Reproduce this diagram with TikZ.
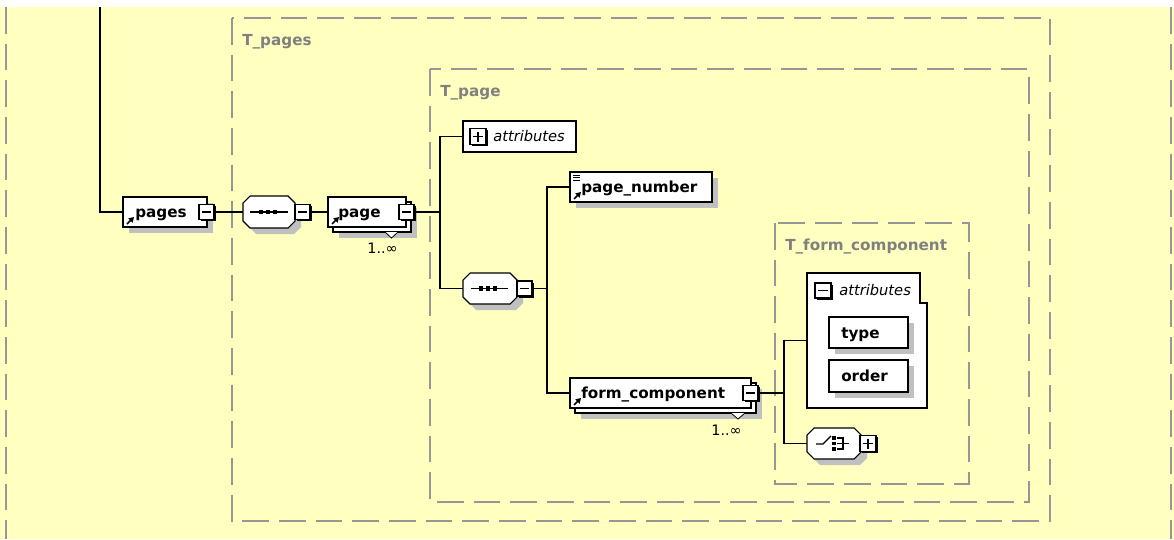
\documentclass[tikz,border=0pt]{standalone}
\usepackage{fontspec}
\setmainfont{DejaVu Sans}
\usetikzlibrary{calc,arrows.meta}
\definecolor{bg}{RGB}{255,255,192}
\definecolor{dashgray}{RGB}{150,150,150}
\definecolor{labgray}{RGB}{128,128,128}
\definecolor{shgray}{RGB}{192,192,192}

% element box with drop shadow: [style]{name}{x1}{y1}{x2}{y2}
\newcommand\elem[6][]{%
  \fill[shgray] ({#3+6},{#4+6}) rectangle ({#5+6},{#6+6});
  \node[elbox,#1,minimum width={(#5-#3)*0.75pt},minimum height={(#6-#4)*0.75pt}] (#2) at ({(#3+#5)/2},{(#4+#6)/2}) {};}
% plain box, no shadow
\newcommand\plainbox[6][]{%
  \node[elbox,#1,minimum width={(#5-#3)*0.75pt},minimum height={(#6-#4)*0.75pt}] (#2) at ({(#3+#5)/2},{(#4+#6)/2}) {};}
% minus / plus boxes
\newcommand\minusb[5]{%
  \fill[black] ({#2+1.5},{#3+1.5}) rectangle ({#4+1.5},{#5+1.5});
  \plainbox{#1}{#2}{#3}{#4}{#5}
  \draw[line width=1.1pt] ($(#1.west)+(3,0)$) -- ($(#1.east)+(-3,0)$);}
\newcommand\plusb[5]{%
  \minusb{#1}{#2}{#3}{#4}{#5}
  \draw[line width=1.1pt] ($(#1.north)+(0,3)$) -- ($(#1.south)+(0,-3)$);}
% octagon compositor
\newcommand\octpath[4]{({#1+7},#2) -- ({#3-7},#2) -- (#3,{#2+7}) -- (#3,{#4-7}) -- ({#3-7},#4) -- ({#1+7},#4) -- (#1,{#4-7}) -- (#1,{#2+7}) -- cycle}
\newcommand\octa[5]{%
  \fill[shgray,shift={(6,6)}] \octpath{#2}{#3}{#4}{#5};
  \filldraw[fill=white,draw=black,line width=0.8pt] \octpath{#2}{#3}{#4}{#5};
  \node[inner sep=0,outer sep=0,minimum width={(#4-#2)*0.75pt},minimum height={(#5-#3)*0.75pt}] (#1) at ({(#2+#4)/2},{(#3+#5)/2}) {};}
% reference arrow icon
\newcommand\refarrow[1]{%
  \draw[line width=1.3pt,-{Triangle[length=3.8pt,width=4.4pt]}] ($(#1.south west)+(4,-3)$) -- ++(7,-7);}

\begin{document}
\begin{tikzpicture}[x=0.75pt,y=-0.75pt,
  conn/.style={draw=black,line width=1pt},
  frame/.style={draw=dashgray,line width=1.1pt,dash pattern=on 20pt off 7.5pt},
  elbox/.style={draw=black,fill=white,line width=0.8pt,inner sep=0,outer sep=0},
  ename/.style={font={\fontsize{11.4pt}{13pt}\selectfont\bfseries},inner sep=0,anchor=base west},
  aname/.style={font={\fontsize{11pt}{13pt}\selectfont\itshape},inner sep=0,anchor=base west},
  tname/.style={font={\fontsize{11.4pt}{13pt}\selectfont\bfseries},text=labgray,inner sep=0,anchor=base west},
  card/.style={font={\fontsize{10.8pt}{13pt}\selectfont},inner sep=0,anchor=base east}
]
\useasboundingbox (0,0) rectangle (1174,539);
\fill[bg] (0,7) rectangle (1174,539);

% outer frames
\draw[frame] (6,7) -- (6,539);
\draw[frame] (1171,7) -- (1171,539);
\draw[frame] (232,18) rectangle (1050,521);
\draw[frame] (430,69) rectangle (1029,502);
\draw[frame] (775,223) rectangle (969,484);
\node[tname] (lpages) at (242,45) {T\_pages};
\node[tname] (lpage) at (440,96) {T\_page};
\node[tname] (lfc) at (785,250) {T\_form\_component};

% pages
\elem{pages}{123}{197}{207}{227}
\node[ename] (pagest) at (135,217) {pages};
\refarrow{pages}
\minusb{pagesm}{199}{204.5}{214}{219.5}

% sequence 1
\octa{seq1}{243}{196}{295}{228}
\draw[line width=0.9pt] (250,212) -- (288,212);
\foreach \xx in {261,268,275} \fill (\xx-2.2,209.8) rectangle (\xx+2.2,214.2);
\minusb{seq1m}{295}{204.5}{310}{219.5}

% page (stacked)
\elem{pageb}{333}{202}{411}{232}
\plainbox{page}{328}{197}{406}{227}
\filldraw[fill=white,draw=black,line width=0.6pt] (385,232) -- (391.5,238) -- (398,232);
\node[ename] (paget) at (338,217) {page};
\refarrow{page}
\minusb{pagem}{399}{204.5}{414}{219.5}
\node[card] (pagec) at (398,253) {1..∞};

% attributes of T_page
\plainbox{attr1}{463}{121}{576}{152}
\plusb{attr1p}{470}{128.5}{486}{144.5}
\node[aname] (attr1t) at (493,141.5) {attributes};

% sequence 2
\octa{seq2}{463}{273}{517}{304}
\draw[line width=0.9pt] (471,288.5) -- (508,288.5);
\foreach \xx in {481,488,495} \fill (\xx-2.2,286.3) rectangle (\xx+2.2,290.7);
\minusb{seq2m}{517}{281}{532}{296}

% page_number
\elem{pn}{570}{172}{712}{202}
\node[ename] (pnt) at (581,192) {page\_number};
\refarrow{pn}
\foreach \yy in {3,5.5,8} \draw[line width=0.7pt] ($(pn.north west)+(3,\yy)$) -- ++(7,0);

% form_component (stacked)
\elem{fcb}{575}{383}{756}{413}
\plainbox{fc}{570}{378}{751}{408}
\filldraw[fill=white,draw=black,line width=0.6pt] (731,413) -- (738,419) -- (745,413);
\node[ename] (fct) at (581,398) {form\_component};
\refarrow{fc}
\minusb{fcm}{743}{385.5}{758}{400.5}
\node[card] (fcc) at (742,435) {1..∞};

% attributes of T_form_component
\filldraw[fill=white,draw=black,line width=0.8pt] (807,273) -- (920,273) -- (920,303) -- (927,303) -- (927,408) -- (807,408) -- cycle;
\node[inner sep=0,outer sep=0,minimum width={120*0.75pt},minimum height={135*0.75pt}] (attr2) at (867,340.5) {};
\minusb{attr2m}{815}{283}{831}{298}
\node[aname] (attr2t) at (839,295) {attributes};
\elem{type}{829}{317}{908}{348}
\node[ename] (typet) at (841,338) {type};
\elem{order}{829}{360}{908}{392}
\node[ename] (ordert) at (841,381.5) {order};

% choice
\octa{choice}{807}{428}{861}{459}
\draw[line width=0.9pt] (816,444) -- (823,444) -- (831,436);
\foreach \yy in {438,443.5,449} \fill (832.3,\yy-1.8) rectangle (835.7,\yy+1.8);
\draw[line width=0.9pt] (837,438) -- (843,438) -- (843,449) -- (837,449);
\draw[line width=0.9pt] (837,443.5) -- (849,443.5);
\plusb{choicep}{860}{435.5}{876}{451.5}

% connectors
\coordinate (top) at (100,7);
\coordinate (j1) at (440,212);
\coordinate (j2) at (547,288.5);
\coordinate (j3) at (784,393);
\draw[conn] (top) |- (pages.west);
\draw[conn] (pagesm.east) -- (seq1.west);
\draw[conn] (seq1m.east) -- (page.west);
\draw[conn] (pagem.east) -- (j1);
\draw[conn] (j1) |- (attr1.west);
\draw[conn] (j1) |- (seq2.west);
\draw[conn] (seq2m.east) -- (j2);
\draw[conn] (j2) |- (pn.west);
\draw[conn] (j2) |- (fc.west);
\draw[conn] (fcm.east) -- (j3);
\draw[conn] (j3) |- (attr2.west);
\draw[conn] (j3) |- (choice.west);
\end{tikzpicture}
\end{document}
